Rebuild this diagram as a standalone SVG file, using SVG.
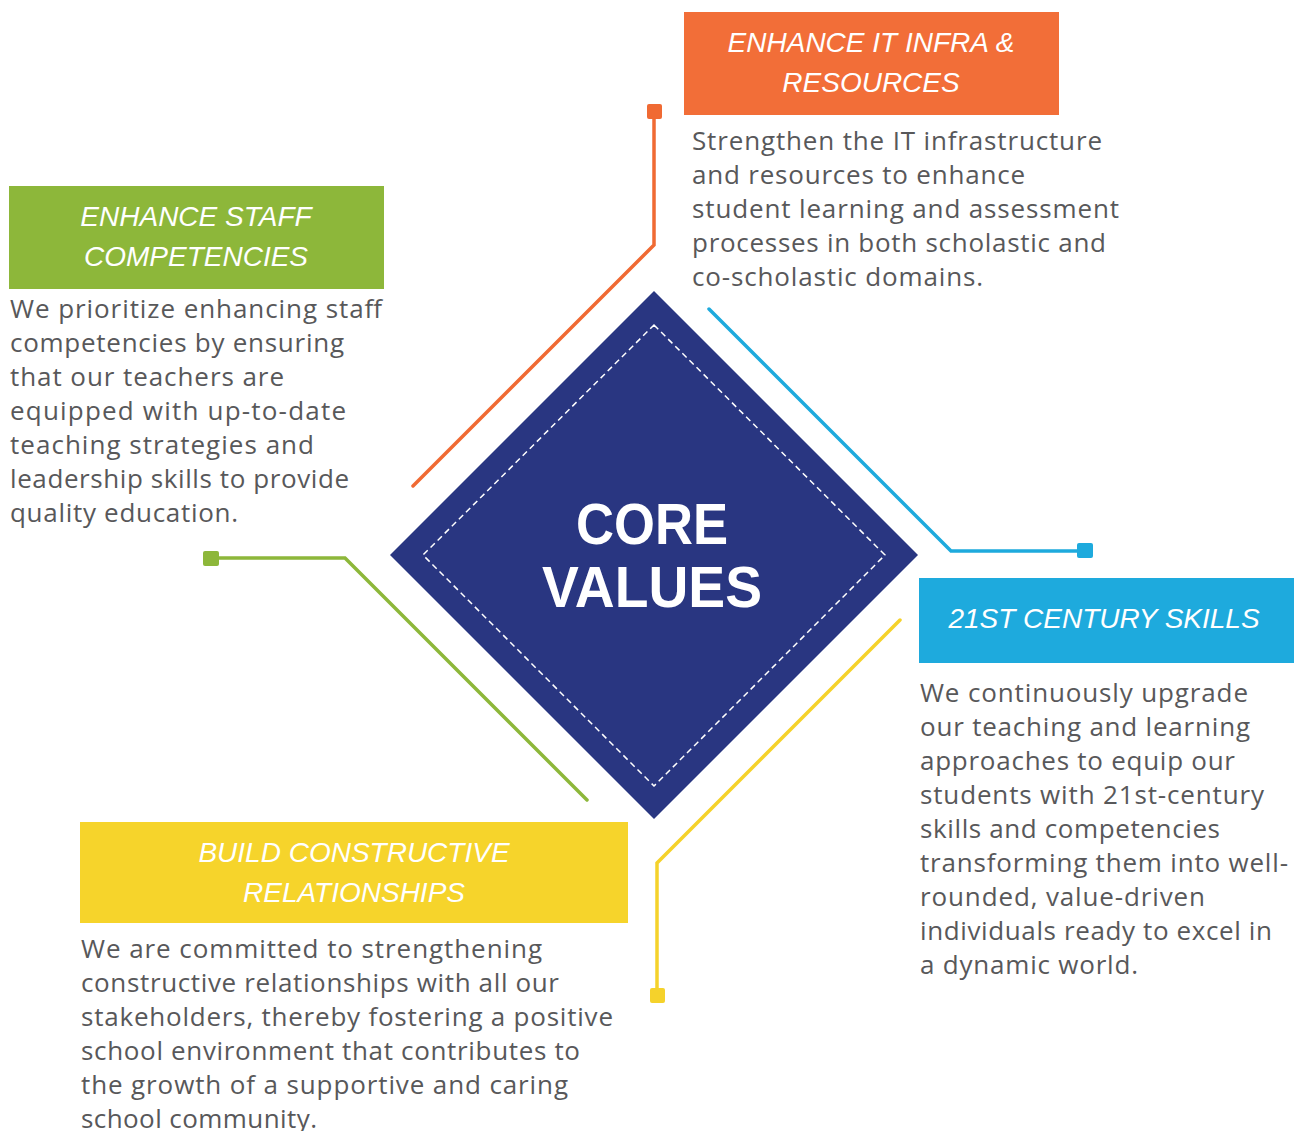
<svg xmlns="http://www.w3.org/2000/svg" width="1294" height="1131" viewBox="0 0 1294 1131">
<style>
.title{font-family:"Liberation Sans",Arial,sans-serif;font-style:italic;font-size:28px;fill:#ffffff;text-anchor:middle}
.body{font-family:"Open Sans","Liberation Sans",sans-serif;font-size:26px;fill:#58585a}
.conn{fill:none;stroke-width:3.5;stroke-linejoin:miter;stroke-linecap:round}
.core{font-family:"Liberation Sans",Arial,sans-serif;font-weight:bold;font-size:57px;fill:#ffffff;text-anchor:middle}
</style>
<rect width="1294" height="1131" fill="#ffffff"/>
<g id="connectors">
  <path class="conn" stroke="#f06a33" d="M654,114 V245 L413,486"/>
  <rect x="647" y="104" width="15" height="15" rx="2" fill="#f06a33"/>
  <path class="conn" stroke="#1eaadd" d="M709,309 L951,551 H1082"/>
  <rect x="1077" y="543" width="16" height="15" rx="2" fill="#1eaadd"/>
  <path class="conn" stroke="#f5d22b" d="M900,620 L657,863 V992"/>
  <rect x="650" y="988" width="15" height="15" rx="2" fill="#f5d22b"/>
  <path class="conn" stroke="#8db73a" d="M215,558 H345 L587,800"/>
  <rect x="203" y="551" width="16" height="15" rx="2" fill="#8db73a"/>
</g>
<g id="core">
  <polygon points="654,291 918,555 654,819 390,555" fill="#293681"/>
  <polygon points="654,325 885,555 654,786 423,555" fill="none" stroke="#ffffff" stroke-width="1.5" stroke-dasharray="6 4"/>
  <text class="core" x="652" y="544" textLength="152" lengthAdjust="spacingAndGlyphs">CORE</text>
  <text class="core" x="652" y="607" textLength="220" lengthAdjust="spacingAndGlyphs">VALUES</text>
</g>
<g id="it-infra">
  <rect x="684" y="12" width="375" height="103" fill="#f26e38"/>
  <text class="title" x="871" y="52">ENHANCE IT INFRA &amp;</text>
  <text class="title" x="871" y="92">RESOURCES</text>
  <text class="body" x="692" y="150" textLength="410" lengthAdjust="spacing">Strengthen the IT infrastructure</text>
  <text class="body" x="692" y="184" textLength="333" lengthAdjust="spacing">and resources to enhance</text>
  <text class="body" x="692" y="218" textLength="427" lengthAdjust="spacing">student learning and assessment</text>
  <text class="body" x="692" y="252" textLength="414" lengthAdjust="spacing">processes in both scholastic and</text>
  <text class="body" x="692" y="286" textLength="291" lengthAdjust="spacing">co-scholastic domains.</text>
</g>
<g id="staff">
  <rect x="9" y="186" width="375" height="103" fill="#8db73a"/>
  <text class="title" x="196" y="226">ENHANCE STAFF</text>
  <text class="title" x="196" y="266">COMPETENCIES</text>
  <text class="body" x="10" y="318" textLength="372" lengthAdjust="spacing">We prioritize enhancing staff</text>
  <text class="body" x="10" y="352" textLength="334" lengthAdjust="spacing">competencies by ensuring</text>
  <text class="body" x="10" y="386" textLength="274" lengthAdjust="spacing">that our teachers are</text>
  <text class="body" x="10" y="420" textLength="336" lengthAdjust="spacing">equipped with up-to-date</text>
  <text class="body" x="10" y="454" textLength="304" lengthAdjust="spacing">teaching strategies and</text>
  <text class="body" x="10" y="488" textLength="339" lengthAdjust="spacing">leadership skills to provide</text>
  <text class="body" x="10" y="522" textLength="228" lengthAdjust="spacing">quality education.</text>
</g>
<g id="skills">
  <rect x="919" y="578" width="375" height="85" fill="#1eaadd"/>
  <text class="title" x="1104" y="628">21ST CENTURY SKILLS</text>
  <text class="body" x="920" y="702" textLength="328" lengthAdjust="spacing">We continuously upgrade</text>
  <text class="body" x="920" y="736" textLength="330" lengthAdjust="spacing">our teaching and learning</text>
  <text class="body" x="920" y="770" textLength="315" lengthAdjust="spacing">approaches to equip our</text>
  <text class="body" x="920" y="804" textLength="344" lengthAdjust="spacing">students with 21st-century</text>
  <text class="body" x="920" y="838" textLength="300" lengthAdjust="spacing">skills and competencies</text>
  <text class="body" x="920" y="872" textLength="368" lengthAdjust="spacing">transforming them into well-</text>
  <text class="body" x="920" y="906" textLength="285" lengthAdjust="spacing">rounded, value-driven</text>
  <text class="body" x="920" y="940" textLength="352" lengthAdjust="spacing">individuals ready to excel in</text>
  <text class="body" x="920" y="974" textLength="218" lengthAdjust="spacing">a dynamic world.</text>
</g>
<g id="relationships">
  <rect x="80" y="822" width="548" height="101" fill="#f6d42b"/>
  <text class="title" x="354" y="862">BUILD CONSTRUCTIVE</text>
  <text class="title" x="354" y="902">RELATIONSHIPS</text>
  <text class="body" x="81" y="958" textLength="461" lengthAdjust="spacing">We are committed to strengthening</text>
  <text class="body" x="81" y="992" textLength="478" lengthAdjust="spacing">constructive relationships with all our</text>
  <text class="body" x="81" y="1026" textLength="532" lengthAdjust="spacing">stakeholders, thereby fostering a positive</text>
  <text class="body" x="81" y="1060" textLength="499" lengthAdjust="spacing">school environment that contributes to</text>
  <text class="body" x="81" y="1094" textLength="487" lengthAdjust="spacing">the growth of a supportive and caring</text>
  <text class="body" x="81" y="1128" textLength="236" lengthAdjust="spacing">school community.</text>
</g>
</svg>
